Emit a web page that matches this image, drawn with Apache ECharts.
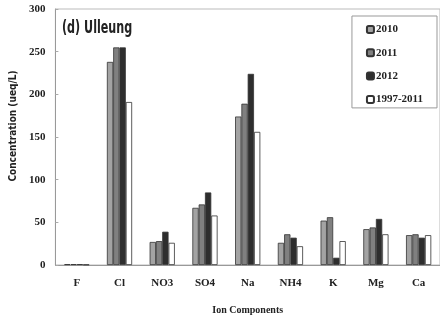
<!DOCTYPE html>
<html><head><meta charset="utf-8">
<script src="https://cdn.jsdelivr.net/npm/echarts@6/dist/echarts.min.js"></script>
<style>html,body{margin:0;padding:0;background:#fff}#c{width:440px;height:321px}</style>
</head><body><div id="c"></div>
<script>
const categories = ['F','Cl','NO3','SO4','Na','NH4','K','Mg','Ca'];
const s2010 = [1, 238, 27, 67, 174, 26, 52, 42, 35];
const s2011 = [1, 255, 28, 71, 189, 36, 56, 44, 36];
const s2012 = [1, 255, 39, 85, 224, 32, 8.5, 54, 32];
const s19972011 = [0.5, 191, 26, 58, 156, 22, 28, 36, 35];
const yTicks = [0, 50, 100, 150, 200, 250, 300];

const chart = echarts.init(document.getElementById('c'), null, {renderer:'canvas'});
const serif = 'Liberation Serif';
const narrow = '"DejaVu Sans Condensed", "Liberation Sans Narrow", "Liberation Sans"';
const bar = (name, data, color) => ({
  name, type:'bar', data, barWidth:6.3, barGap:'0%',
  itemStyle:{color, borderColor:'#333', borderWidth:0.8}
});
chart.setOption({
  animation:false,
  backgroundColor:'#fff',
  graphic:[{type:'text', x:62, y:20, scaleX:0.73, scaleY:1, originX:0, originY:0,
    style:{text:'(d) Ulleung', fontFamily:narrow, fontSize:17, fontWeight:'bold', fill:'#222'}}],
  legend:{orient:'vertical', right:3, top:16, width:84,
    padding:[8,14,3,14], itemGap:12.3, itemWidth:7, itemHeight:7,
    borderColor:'#999', borderWidth:1, backgroundColor:'#fff',
    textStyle:{fontFamily:serif, fontWeight:'bold', fontSize:11, color:'#222', padding:[0,0,0,-3]},
    data:['2010','2011','2012','1997-2011']},
  grid:{left:54, right:-4, top:9, bottom:56, show:true, borderColor:'#bbb', borderWidth:1},
  xAxis:{type:'category', data:categories,
    name:'Ion Components', nameLocation:'middle', nameGap:40,
    nameTextStyle:{fontFamily:serif, fontWeight:'bold', fontSize:10, color:'#222'},
    axisLine:{lineStyle:{color:'#999'}},
    axisTick:{inside:true, length:3, lineStyle:{color:'#aaa'}},
    axisLabel:{fontFamily:serif, fontWeight:'bold', fontSize:11, color:'#222', margin:13}},
  yAxis:{type:'value', min:0, max:300, interval:50,
    name:'Concentration (ueq/L)', nameLocation:'middle', nameGap:37,
    nameTextStyle:{fontFamily:narrow, fontWeight:'bold', fontSize:10, color:'#222', padding:[0,0,0,22]},
    axisLine:{show:true, lineStyle:{color:'#999'}},
    axisTick:{show:true, inside:true, length:3, lineStyle:{color:'#aaa'}},
    splitLine:{show:false},
    axisLabel:{fontFamily:serif, fontWeight:'bold', fontSize:11, color:'#222', margin:10,
      formatter:v => yTicks.includes(v) ? String(v) : ''}},
  series:[
    bar('2010', s2010, '#a3a3a3'),
    bar('2011', s2011, '#808080'),
    bar('2012', s2012, '#2e2e2e'),
    bar('1997-2011', s19972011, '#ffffff')
  ]
});
</script></body></html>
